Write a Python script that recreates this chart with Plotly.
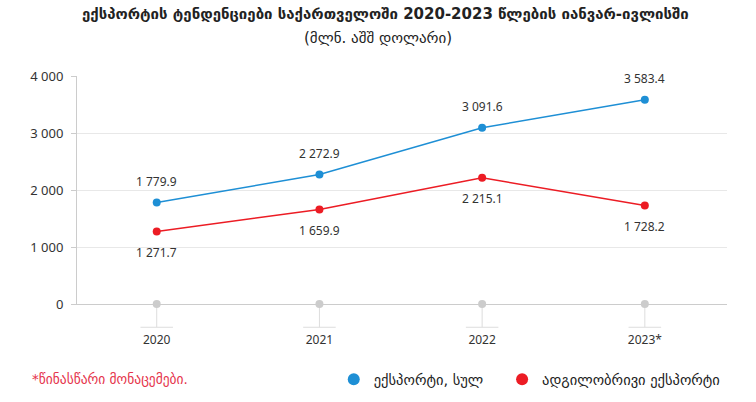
import plotly.graph_objects as go

years = ["2020", "2021", "2022", "2023*"]
export_total = [1779.9, 2272.9, 3091.6, 3583.4]
export_local = [1271.7, 1659.9, 2215.1, 1728.2]
name_total = "ექსპორტი, სულ"
name_local = "ადგილობრივი ექსპორტი"
title_text = "ექსპორტის ტენდენციები საქართველოში 2020-2023 წლების იანვარ-ივლისში"
subtitle_text = "(მლნ. აშშ დოლარი)"
footnote_text = "*წინასწარი მონაცემები."
y_ticks = [0, 1000, 2000, 3000, 4000]

BLUE = "#1e8fd5"
RED = "#ec1c24"
GRAY = "#cccccc"
TXT = "#333333"
FONT = "Noto Sans, DejaVu Sans, sans-serif"
GFONT = "DejaVu Sans, sans-serif"

xs = list(range(len(years)))

fig = go.Figure()

# base dots at zero
fig.add_trace(go.Scatter(x=xs, y=[0] * len(xs), mode="markers",
                         marker=dict(color=GRAY, size=8), showlegend=False,
                         hoverinfo="skip", cliponaxis=False))

fig.add_trace(go.Scatter(x=xs, y=export_total, mode="lines+markers", name=name_total,
                         line=dict(color=BLUE, width=1.5), marker=dict(color=BLUE, size=8),
                         showlegend=False, cliponaxis=False))
fig.add_trace(go.Scatter(x=xs, y=export_local, mode="lines+markers", name=name_local,
                         line=dict(color=RED, width=1.5), marker=dict(color=RED, size=8),
                         showlegend=False, cliponaxis=False))

# legend-only entries (dot symbols), each in its own legend box
for nm, col, lg in [(name_total, BLUE, "legend"), (name_local, RED, "legend2")]:
    fig.add_trace(go.Scatter(x=[None], y=[None], mode="markers", name=nm, legend=lg,
                             marker=dict(color=col, size=12)))

def fmt(v):
    return f"{v:,.1f}".replace(",", " ")

annotations = []
for i, v in enumerate(export_total):
    annotations.append(dict(x=i, y=v, xref="x", yref="y", text=fmt(v), showarrow=False,
                            yshift=21, font=dict(size=12, color=TXT, family=FONT)))
for i, v in enumerate(export_local):
    annotations.append(dict(x=i, y=v, xref="x", yref="y", text=fmt(v), showarrow=False,
                            yshift=-21, font=dict(size=12, color=TXT, family=FONT)))

annotations.append(dict(x=0.474, y=1.0, xref="paper", yref="paper", text="<b>" + title_text + "</b>",
                        showarrow=False, yanchor="middle", yshift=62,
                        font=dict(size=15, color="#222222", family=GFONT)))
annotations.append(dict(x=0.463, y=1.0, xref="paper", yref="paper", text=subtitle_text,
                        showarrow=False, yanchor="middle", yshift=38,
                        font=dict(size=15, color="#222222", family=GFONT)))
annotations.append(dict(x=-0.072, y=-0.33, xref="paper", yref="paper", text=footnote_text,
                        showarrow=False, xanchor="left", yanchor="middle",
                        font=dict(size=13.5, color="#e5334b", family=GFONT)))

# T-shaped tick decorations under each category
shapes = []
for i in xs:
    shapes.append(dict(type="line", xref="x", yref="paper", x0=i, x1=i, y0=0, y1=-0.102,
                       line=dict(color="#dddddd", width=1), layer="below"))
    shapes.append(dict(type="line", xref="x", yref="paper", x0=i - 0.1, x1=i + 0.1,
                       y0=-0.102, y1=-0.102, line=dict(color="#dddddd", width=1), layer="below"))

legend_common = dict(orientation="h", xanchor="left", y=-0.33, yanchor="middle",
                     font=dict(size=14.5, color="#222222", family=GFONT), itemwidth=30,
                     tracegroupgap=0, bgcolor="rgba(0,0,0,0)")

fig.update_layout(
    width=756, height=402,
    margin=dict(l=77, r=29, t=76, b=98, autoexpand=False),
    paper_bgcolor="white", plot_bgcolor="white",
    font=dict(family=FONT, size=12, color=TXT),
    separators=". ",
    annotations=annotations,
    shapes=shapes,
    showlegend=True,
    legend=dict(x=0.395, **legend_common),
    legend2=dict(x=0.654, **legend_common),
    xaxis=dict(range=[-0.49, 3.505], tickvals=xs, ticktext=years, showgrid=False,
               zeroline=False, showline=True, linecolor=GRAY, linewidth=1,
               ticks="", ticklabelstandoff=25, tickfont=dict(size=12, color=TXT),
               fixedrange=True, automargin=False),
    yaxis=dict(range=[0, 4000], tickvals=y_ticks, tickformat=",d", showgrid=True,
               gridcolor="#e8e8e8", gridwidth=1, zeroline=False, showline=True,
               linecolor=GRAY, linewidth=1, ticks="outside", ticklen=5, tickcolor=GRAY,
               tickfont=dict(size=13, color=TXT), ticklabelstandoff=5, fixedrange=True,
               automargin=False),
)

fig.write_html("out.html", post_script="document.body.style.margin='0';",
               config={"displayModeBar": False})
